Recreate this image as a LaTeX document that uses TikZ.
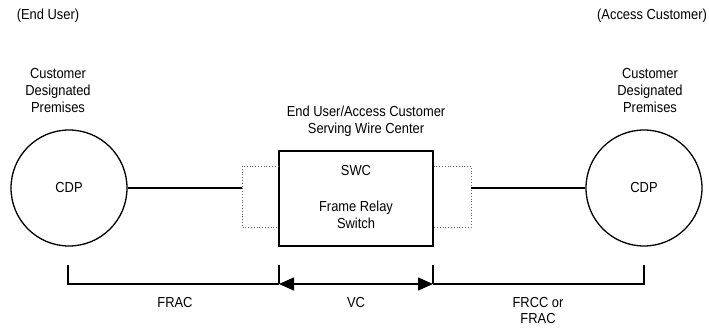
\documentclass[tikz,border=0pt]{standalone}
\usepackage{fontspec}
\setmainfont{Liberation Sans}[FakeStretch=0.89]
\usetikzlibrary{arrows.meta}
\begin{document}
\begin{tikzpicture}[x=1pt,y=-1pt,
  lbl/.style={font=\fontsize{14.5}{17}\selectfont, align=center, inner sep=0pt},
  solidline/.style={line width=1.3pt},
  dotline/.style={line width=0.8pt, dotted, black!60},
  tick/.style={line width=1.3pt}]
\useasboundingbox (0,0) rectangle (709,328);
% circles
\node[draw, circle, solidline, minimum size=116pt, inner sep=0pt, lbl] (cdpL) at (69,188) {CDP};
\node[draw, circle, solidline, minimum size=116pt, inner sep=0pt, lbl] (cdpR) at (644,188) {CDP};
% switch box
\node[draw, solidline, minimum width=154pt, minimum height=95pt, inner sep=0pt] (swc) at (356,198.5) {};
\node[lbl] (swct) at (356,171) {SWC};
\node[lbl] (frs) at (356,215) {Frame Relay\\Switch};
% dotted ports
\coordinate (dLt) at (242,166); \coordinate (dLb) at (242,227);
\coordinate (dRt) at (471,166); \coordinate (dRb) at (471,227);
\coordinate (dLm) at (242,188); \coordinate (dRm) at (471,188);
\draw[dotline] (swc.west |- dLt) -- (dLt) -- (dLb) -- (swc.west |- dLb);
\draw[dotline] (swc.east |- dRt) -- (dRt) -- (dRb) -- (swc.east |- dRb);
\draw[solidline] (cdpL.east) -- (dLm);
\draw[solidline] (dRm) -- (cdpR.west);
% texts
\node[lbl] (eu) at (48,16) {(End User)};
\node[lbl] (ac) at (652,16) {(Access Customer)};
\node[lbl] (cdpLt) at (58,91) {Customer\\Designated\\Premises};
\node[lbl] (cdpRt) at (650,91) {Customer\\Designated\\Premises};
\node[lbl] (swtitle) at (366,121) {End User/Access Customer\\Serving Wire Center};
% bottom brackets
\coordinate (b1t) at (68,265); \coordinate (b1) at (68,284);
\coordinate (b2t) at (279,265); \coordinate (b2) at (279,284);
\coordinate (b3t) at (433,265); \coordinate (b3) at (433,284);
\coordinate (b4t) at (644,265); \coordinate (b4) at (644,284);
\draw[tick] (b1t) -- (b1) -- (b2);
\draw[tick] (b2t) -- (b2);
\draw[tick] (b3t) -- (b3);
\draw[tick] (b3) -- (b4) -- (b4t);
\draw[solidline, {Triangle[length=15pt,width=13pt]}-{Triangle[length=15pt,width=13pt]}] (b2) -- (b3);
\node[font=\fontsize{8}{8}\selectfont, inner sep=0pt] (dots) at (318,285) {..};
\node[lbl] (frac) at (175,303) {FRAC};
\node[lbl] (vc) at (356,303) {VC};
\node[lbl, font=\fontsize{14.5}{16}\selectfont] (frcc) at (538,311) {FRCC or\\FRAC};
\end{tikzpicture}
\end{document}
